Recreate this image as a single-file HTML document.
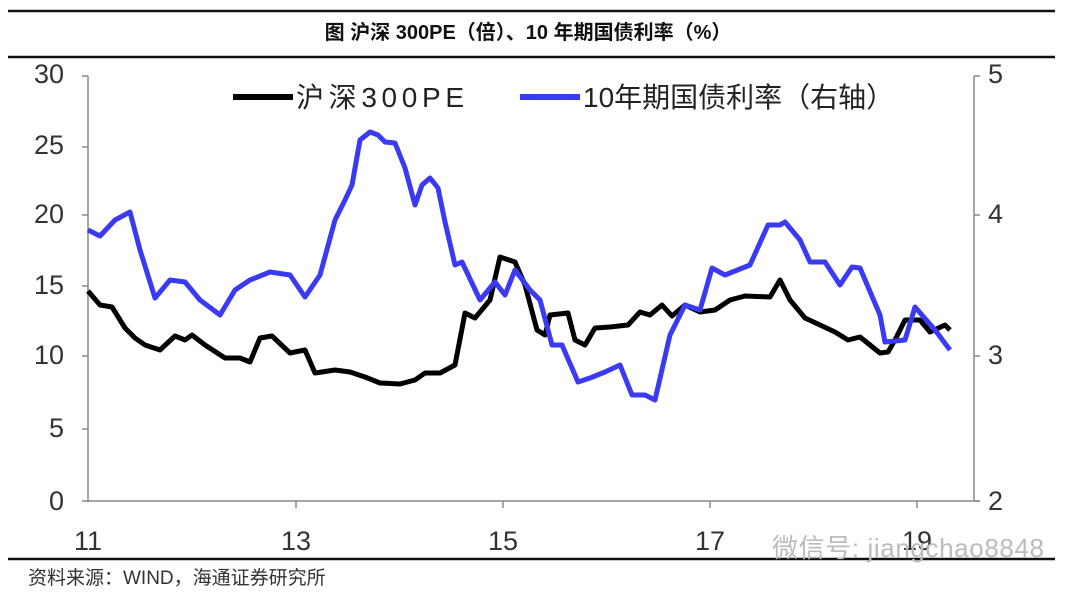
<!DOCTYPE html>
<html><head><meta charset="utf-8"><style>
html,body{margin:0;padding:0;background:#fff;}
body{width:1080px;height:600px;overflow:hidden;}
</style></head><body>
<svg width="1080" height="600" xmlns="http://www.w3.org/2000/svg" font-family="Liberation Sans, Noto Sans CJK SC, sans-serif">
<rect width="1080" height="600" fill="#fff"/>
<line x1="8" y1="11" x2="1055" y2="11" stroke="#111" stroke-width="2.5"/>
<text x="528" y="39" font-size="20" font-weight="bold" text-anchor="middle" fill="#111" font-family="Liberation Sans, Noto Sans CJK SC, sans-serif">图  沪深 300PE（倍）、10 年期国债利率（%）</text>
<line x1="8" y1="57" x2="1055" y2="57" stroke="#111" stroke-width="2.5"/>
<g stroke="#888" stroke-width="1.5" fill="none">
<line x1="88" y1="76" x2="88" y2="502"/>
<line x1="82" y1="76" x2="88" y2="76"/>
<line x1="82" y1="147" x2="88" y2="147"/>
<line x1="82" y1="215" x2="88" y2="215"/>
<line x1="82" y1="286" x2="88" y2="286"/>
<line x1="82" y1="356" x2="88" y2="356"/>
<line x1="82" y1="429" x2="88" y2="429"/>
<line x1="82" y1="501" x2="980" y2="501"/>
<line x1="974" y1="76" x2="974" y2="501"/>
<line x1="974" y1="76" x2="980" y2="76"/>
<line x1="974" y1="215" x2="980" y2="215"/>
<line x1="974" y1="356" x2="980" y2="356"/>
<line x1="974" y1="501" x2="980" y2="501"/>
<line x1="296" y1="501" x2="296" y2="508"/>
<line x1="503" y1="501" x2="503" y2="508"/>
<line x1="710" y1="501" x2="710" y2="508"/>
<line x1="917" y1="501" x2="917" y2="508"/>
</g>
<g font-size="27" fill="#333" text-anchor="end">
<text x="64" y="83">30</text><text x="64" y="154">25</text><text x="64" y="223">20</text>
<text x="64" y="294">15</text><text x="64" y="364">10</text><text x="64" y="437">5</text><text x="64" y="510">0</text>
</g>
<g font-size="27" fill="#333">
<text x="988" y="83">5</text><text x="988" y="223">4</text><text x="988" y="364">3</text><text x="988" y="510">2</text>
</g>
<g font-size="27" fill="#333" text-anchor="middle">
<text x="88" y="550">11</text><text x="296" y="550">13</text><text x="503" y="550">15</text><text x="710" y="550">17</text><text x="917" y="550">19</text>
</g>
<line x1="233" y1="97" x2="293" y2="97" stroke="#000" stroke-width="6"/>
<text x="296" y="107" font-size="28" fill="#222" textLength="168">沪深300PE</text>
<line x1="520" y1="97" x2="580" y2="97" stroke="#3a3af5" stroke-width="6"/>
<text x="583" y="107" font-size="28" fill="#222">10年期国债利率（右轴）</text>
<polyline fill="none" stroke="#000" stroke-width="5" stroke-linejoin="round" points="88,291 100,305 112,307 125,328 135,338 145,345 160,350 175,336 185,340 192,335 205,345 225,358 240,358 250,362 260,338 272,336 290,353 305,350 315,373 335,370 350,372 365,377 380,383 400,384 415,380 425,373 440,373 455,365 465,313 475,318 490,300 500,257 515,262 525,285 537,330 545,335 550,315 568,313 575,340 585,345 595,328 610,327 628,325 640,312 650,315 662,305 672,316 685,305 700,312 715,310 730,300 745,296 770,297 780,280 790,300 805,318 820,325 835,332 848,340 860,337 870,345 880,353 888,352 895,340 905,320 920,320 930,332 945,325 950,330"/>
<polyline fill="none" stroke="#3a3af5" stroke-width="5" stroke-linejoin="round" points="88,230 100,236 115,220 130,212 140,250 155,298 170,280 185,282 200,300 220,315 235,290 250,280 270,272 290,275 305,297 320,275 335,220 345,200 352,185 360,140 370,132 378,135 385,142 395,143 405,168 415,205 422,185 430,178 438,188 445,222 455,265 462,262 480,300 495,282 505,295 515,270 530,290 540,300 552,345 562,345 578,382 590,378 605,372 620,365 632,395 645,395 655,400 670,335 685,305 700,310 712,268 725,275 750,265 768,225 780,225 785,222 800,240 810,262 825,262 840,285 852,267 860,268 880,315 885,342 905,340 915,307 935,330 950,350"/>
<line x1="8" y1="559" x2="1055" y2="559" stroke="#111" stroke-width="2.5"/>
<text x="28" y="584" font-size="19" fill="#333">资料来源：WIND，海通证券研究所</text>
<text x="772" y="557" font-size="26" fill="#bbb" textLength="272">微信号: jiangchao8848</text>
</svg>
</body></html>
